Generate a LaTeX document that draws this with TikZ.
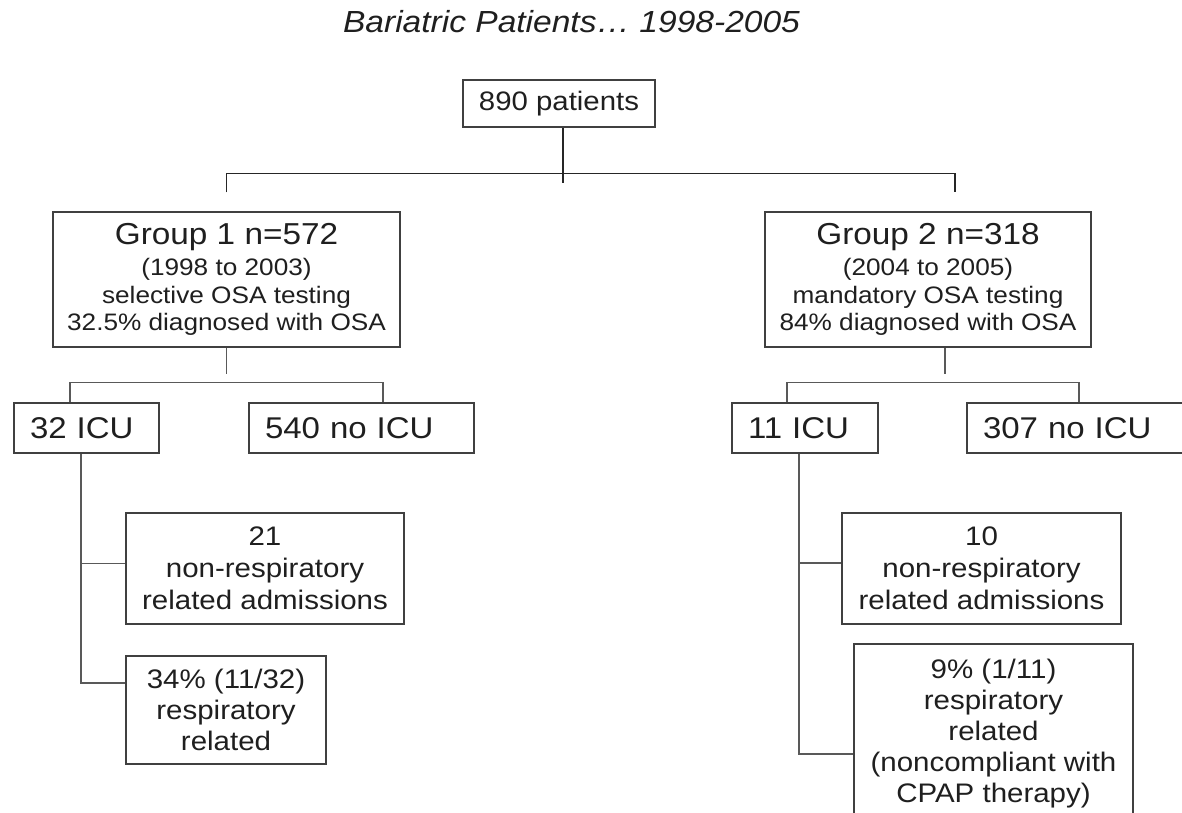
\documentclass[tikz,border=0pt]{standalone}
\usepackage{fontspec}
\setmainfont[FakeStretch=1.1]{Liberation Sans}
\begin{document}
\begin{tikzpicture}[x=1pt,y=-1pt,
  boxbase/.style={draw=black!75, line width=1.5pt, inner sep=0pt, align=center, text=black!88},
  smallfont/.style={font=\fontsize{26.8}{32}\selectfont},
  groupfont/.style={font=\fontsize{23.8}{27.5}\selectfont},
  icufont/.style={font=\fontsize{30}{34}\selectfont},
  icubox/.style={boxbase, icufont, align=left, inner xsep=16pt, minimum height=50pt},
  topconn/.style={draw=black!85, line width=1.5pt},
  conn/.style={draw=black!65, line width=1.5pt}]
\useasboundingbox (0,0) rectangle (1182,812);
\clip (0,0) rectangle (1182,812);
\fill[white] (0,0) rectangle (1182,812);

% title
\node[anchor=base, font=\fontsize{30.5}{34}\selectfont\itshape, text=black!88, inner sep=0pt] (title) at (571.5,32) {Bariatric Patients… 1998-2005};

% boxes
\node[boxbase, font=\fontsize{26.7}{30}\selectfont, minimum width=192pt, minimum height=47pt] (top) at (559,103.5) {890 patients};

\node[boxbase, groupfont, minimum width=347pt, minimum height=135pt] (g1) at (226.5,279.5)
  {{\fontsize{30.3}{32}\selectfont Group 1 n=572}\\[4pt] (1998 to 2003)\\ selective OSA testing\\ 32.5\% diagnosed with OSA};
\node[boxbase, groupfont, minimum width=326pt, minimum height=135pt] (g2) at (928,279.5)
  {{\fontsize{30.3}{32}\selectfont Group 2 n=318}\\[4pt] (2004 to 2005)\\ mandatory OSA testing\\ 84\% diagnosed with OSA};

\node[icubox, text width=113pt] (icu1) at (86.5,428) {32 ICU};
\node[icubox, text width=193pt] (noicu1) at (361.5,428) {540 no ICU};
\node[icubox, text width=114pt] (icu2) at (805,428) {11 ICU};
\node[icubox, text width=192pt] (noicu2) at (1079,428) {307 no ICU};

\node[boxbase, smallfont, minimum width=278pt, minimum height=111pt] (r21) at (265,568.5)
  {21\\ non-respiratory\\ related admissions};
\node[boxbase, font=\fontsize{26.8}{31}\selectfont, minimum width=200pt, minimum height=108pt] (r34) at (226,710)
  {34\% (11/32)\\ respiratory\\ related};
\node[boxbase, smallfont, minimum width=279pt, minimum height=111pt] (r10) at (981.5,568.5)
  {10\\ non-respiratory\\ related admissions};
\node[boxbase, font=\fontsize{26.8}{31}\selectfont, minimum width=279pt, minimum height=179pt] (r9) at (993.5,733.5)
  {9\% (1/11)\\ respiratory\\ related\\ (noncompliant with\\ CPAP therapy)};

% connectors, top level
\draw[topconn] ([xshift=4pt]top.south) -- ++(0,55);
\draw[topconn] ([yshift=19pt]g1.north) -- ++(0,-19) -- ([xshift=27pt,yshift=38pt]g2.north) -- ([xshift=27pt,yshift=19pt]g2.north);

% group 1
\draw[conn] (g1.south) -- ++(0,26);
\draw[conn] ([xshift=-16.5pt]icu1.north) -- ++(0,-20) -- ([xshift=21.5pt,yshift=20pt]noicu1.north) -- ([xshift=21.5pt]noicu1.north);
\draw[conn] ([xshift=-5.5pt]icu1.south) |- ([yshift=5pt]r21.west);
\draw[conn] ([xshift=-5.5pt]icu1.south) |- ([yshift=27pt]r34.west);

% group 2
\draw[conn] ([xshift=17pt]g2.south) -- ++(0,26);
\draw[conn] ([xshift=-18pt]icu2.north) -- ++(0,-20) -- ([yshift=20pt]noicu2.north) -- (noicu2.north);
\draw[conn] ([xshift=-6pt]icu2.south) |- ([yshift=5.5pt]r10.west);
\draw[conn] ([xshift=-6pt]icu2.south) |- ([yshift=-20.5pt]r9.west);
\end{tikzpicture}
\end{document}
